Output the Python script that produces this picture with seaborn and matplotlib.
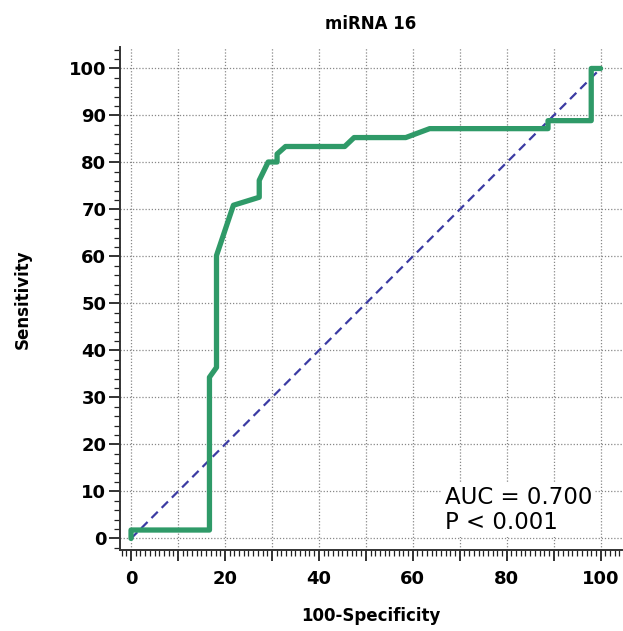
# ROC curve - miRNA 16

import numpy as np
import pandas as pd
import seaborn as sns
import matplotlib.pyplot as plt
from matplotlib.ticker import MultipleLocator

# pontos da curva ROC
fpr = [0, 0, 16.7, 16.7, 18.2, 18.2, 21.8, 27.3, 27.3, 29.2, 31.1, 31.1, 32.9, 45.5, 47.5, 58.5, 63.6, 88.8, 88.8, 98.0, 98.0, 100]
tpr = [0, 1.8, 1.8, 34.3, 36.4, 60.2, 70.9, 72.6, 76.2, 80.1, 80.1, 81.8, 83.4, 83.4, 85.3, 85.3, 87.2, 87.2, 88.9, 88.9, 100, 100]
diag = [0, 100]
titulo = "miRNA 16"
auc_txt = "AUC = 0.700\nP < 0.001"

df = pd.DataFrame({"fpr": fpr, "tpr": tpr})

sns.set_style("white")
plt.rcParams['font.family'] = ['DejaVu Sans']
plt.rcParams['text.color'] = "black"
plt.rcParams['axes.labelcolor'] = "black"

fig = plt.figure(figsize=(6.23, 6.31), dpi=100)
ax = fig.add_axes([0.193, 0.128, 0.805, 0.797])

ax.plot(diag, diag, color="#3b3ba3", lw=1.6, ls=(0, (4, 2.5)), zorder=3)
sns.lineplot(data=df, x="fpr", y="tpr", sort=False, estimator=None,
             color="#2f9a68", lw=3.8, ax=ax, zorder=4)

ax.set_xlim(-2.3, 104.5)
ax.set_ylim(-2.5, 104.5)

ax.xaxis.set_major_locator(MultipleLocator(10))
ax.xaxis.set_minor_locator(MultipleLocator(1))
ax.yaxis.set_major_locator(MultipleLocator(10))
ax.yaxis.set_minor_locator(MultipleLocator(2))
ax.set_xticks(np.arange(0, 101, 10))
ax.set_xticklabels([str(v) if v % 20 == 0 else "" for v in range(0, 101, 10)])
ax.set_yticks(np.arange(0, 101, 10))

ax.tick_params(axis="both", which="both", bottom=True, left=True,
               direction="out", color="#222222", labelcolor="black")
ax.tick_params(axis="both", which="major", length=8, width=1.3, labelsize=13)
ax.tick_params(axis="both", which="minor", length=4, width=0.9)
ax.tick_params(axis="x", which="major", pad=6)
ax.tick_params(axis="y", which="major", pad=2)
for lab in ax.get_xticklabels() + ax.get_yticklabels():
    lab.set_fontweight("bold")

ax.grid(True, which="major", color="#888888", ls=(0, (1, 1.5)), lw=0.9)
ax.set_axisbelow(True)

sns.despine(ax=ax)
for s in ["left", "bottom"]:
    ax.spines[s].set_linewidth(1.4)
    ax.spines[s].set_color("#333333")

ax.set_title(titulo, fontsize=12, fontweight="bold", pad=13)
ax.set_xlabel("100-Specificity", fontsize=12, fontweight="bold", labelpad=14)
ax.set_ylabel("Sensitivity", fontsize=12, fontweight="bold", labelpad=27)

ax.text(66.8, 1.0, auc_txt, fontsize=16.5, color="black", ha="left", va="bottom",
        linespacing=1.1, zorder=5,
        bbox=dict(facecolor="white", edgecolor="none", pad=2))

plt.savefig("out.png", dpi=100)
